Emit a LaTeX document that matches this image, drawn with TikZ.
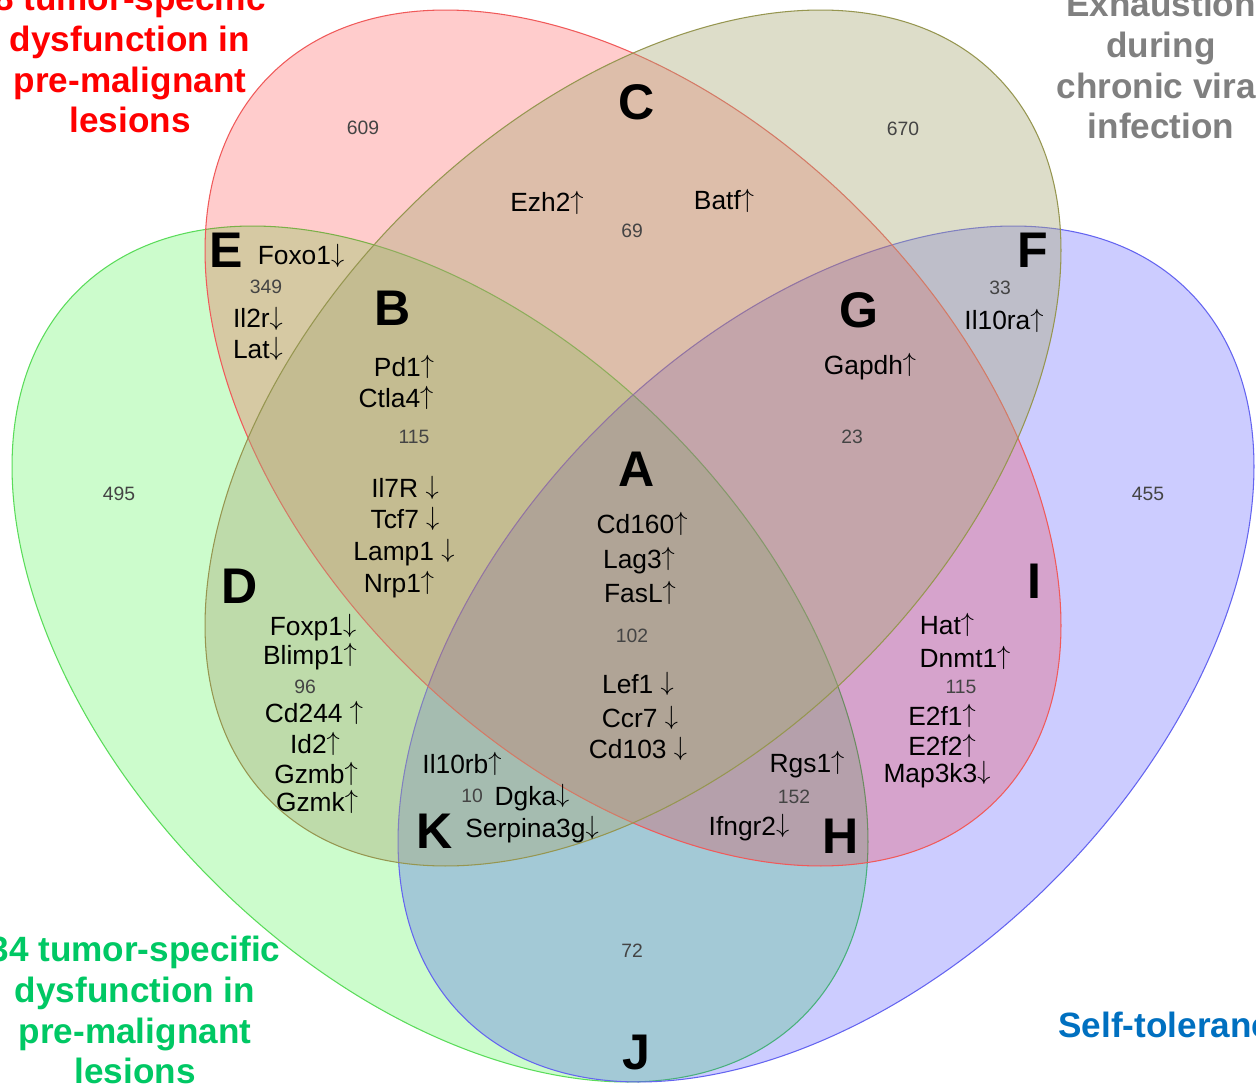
\documentclass[tikz,border=0pt]{standalone}
\usepackage{fix-cm}
\usepackage{fontspec}
\setmainfont{Liberation Sans}
\definecolor{redline}{RGB}{240,90,90}
\definecolor{redfill}{RGB}{255,0,0}
\definecolor{tanline}{RGB}{150,150,80}
\definecolor{tanfill}{RGB}{170,170,120}
\definecolor{greenline}{RGB}{90,220,90}
\definecolor{greenfill}{RGB}{0,240,0}
\definecolor{blueline}{RGB}{100,100,240}
\definecolor{bluefill}{RGB}{0,0,255}
\definecolor{countgray}{RGB}{68,68,68}
\definecolor{titlered}{RGB}{255,0,0}
\definecolor{titlegreen}{RGB}{0,200,100}
\definecolor{titlegray}{RGB}{128,128,128}
\definecolor{titleblue}{RGB}{0,112,192}

\begin{document}
\begin{tikzpicture}[x=0.2mm,y=-0.2mm]
  \useasboundingbox (0,0) rectangle (1256,1090);
  \clip (0,0) rectangle (1256,1090);
  \fill[white] (0,0) rectangle (1256,1090);

%% the four sets
  \newcommand{\ellmaj}{513}
  \newcommand{\ellmin}{321}
  \tikzstyle{set}=[line width=0.6pt]
  \tikzstyle{redset}=[set,draw=redline,fill=redfill,fill opacity=0.2]
  \tikzstyle{tanset}=[set,draw=tanline,fill=tanfill,fill opacity=0.4]
  \tikzstyle{greenset}=[set,draw=greenline,fill=greenfill,fill opacity=0.2]
  \tikzstyle{blueset}=[set,draw=blueline,fill=bluefill,fill opacity=0.2]
  \filldraw[greenset,rotate around={-45:(440,654)}] (440,654) ellipse [x radius=\ellmaj, y radius=\ellmin];
  \filldraw[blueset,rotate around={45:(826,654)}]   (826,654) ellipse [x radius=\ellmaj, y radius=\ellmin];
  \filldraw[redset,rotate around={-45:(633,438)}]   (633,438) ellipse [x radius=\ellmaj, y radius=\ellmin];
  \filldraw[tanset,rotate around={45:(633,438)}]    (633,438) ellipse [x radius=\ellmaj, y radius=\ellmin];

%% set titles
  \tikzstyle{title}=[font=\bfseries\fontsize{20}{23.3}\selectfont,align=center,inner sep=0pt]
  \node[title,text=titlered]   (t-red)   at (130,59)   {8 tumor-specific\\dysfunction in\\pre-malignant\\lesions};
  \node[title,text=titlegreen] (t-green) at (135,1010) {34 tumor-specific\\dysfunction in\\pre-malignant\\lesions};
  \node[title,text=titlegray]  (t-gray)  at (1161,65)  {Exhaustion\\during\\chronic viral\\infection};
  \node[title,text=titleblue,anchor=base west] (t-blue) at (1058,1037) {Self-tolerance};

%% region letters
  \tikzstyle{region}=[font=\bfseries\fontsize{28.5}{30}\selectfont,anchor=base,inner sep=0pt]
  \foreach \l/\x/\y in {A/637/486, B/393/326, C/637/120, D/240/603, E/226/268, F/1033/268,
                        G/859/328, H/841/853, I/1034/598, J/636/1069, K/435/848}
    \node[region] (reg-\l) at (\x,\y) {\l};

%% counts
  \tikzstyle{count}=[font=\fontsize{11}{13}\selectfont,text=countgray,anchor=base,inner sep=0pt]
  \foreach \nm/\x/\y/\txt in {red/363/135/609, tan/903/136/670, C/632/238/69, E/266/294/349,
                              F/1000/295/33, B/414/443/115, G/852/443/23, green/119/500/495,
                              blue/1148/500/455, A/632/642/102, D/305/693/96, I/961/693/115,
                              K/472/802/10, H/794/803/152, J/632/957/72}
    \node[count] (n-\nm) at (\x,\y) {\txt};

%% genes
  \newcommand{\geneup}{\raisebox{1.7pt}{$\uparrow$}}
  \newcommand{\genedn}{\raisebox{1.7pt}{$\downarrow$}}
  \tikzstyle{gene}=[font=\fontsize{15}{18}\selectfont,anchor=base,inner sep=0pt]
  \foreach \nm/\x/\y/\txt in {ezh2/547/212/Ezh2\geneup, batf/724/210/Batf\geneup,
                              foxo1/301/265/Foxo1\genedn, il2r/258/328/Il2r\genedn, lat/258/358/Lat\genedn,
                              pd1/404/376/Pd1\geneup, ctla4/396/407/Ctla4\geneup,
                              il7r/405/497/Il7R \genedn, tcf7/405/528/Tcf7 \genedn,
                              lamp1/404/560/Lamp1 \genedn, nrp1/399/592/Nrp1\geneup,
                              il10ra/1004/330/Il10ra\geneup, gapdh/870/374/Gapdh\geneup,
                              cd160/642/533/Cd160\geneup, lag3/639/568/Lag3\geneup, fasl/640/602/FasL\geneup,
                              lef1/638/693/Lef1 \genedn, ccr7/640/727/Ccr7 \genedn, cd103/638/758/Cd103 \genedn,
                              foxp1/313/635/Foxp1\genedn, blimp1/310/664/Blimp1\geneup, cd244/314/722/Cd244 \geneup,
                              id2/315/753/Id2\geneup, gzmb/316/783/Gzmb\geneup, gzmk/317/811/Gzmk\geneup,
                              il10rb/462/773/Il10rb\geneup, dgka/532/805/Dgka\genedn,
                              serpina3g/532/837/Serpina3g\genedn,
                              rgs1/807/772/Rgs1\geneup, ifngr2/749/835/Ifngr2\genedn,
                              hat/947/634/Hat\geneup, dnmt1/965/667/Dnmt1\geneup, e2f1/942/725/E2f1\geneup,
                              e2f2/942/755/E2f2\geneup, map3k3/937/782/Map3k3\genedn}
    \node[gene] (g-\nm) at (\x,\y) {\txt};
\end{tikzpicture}
\end{document}
